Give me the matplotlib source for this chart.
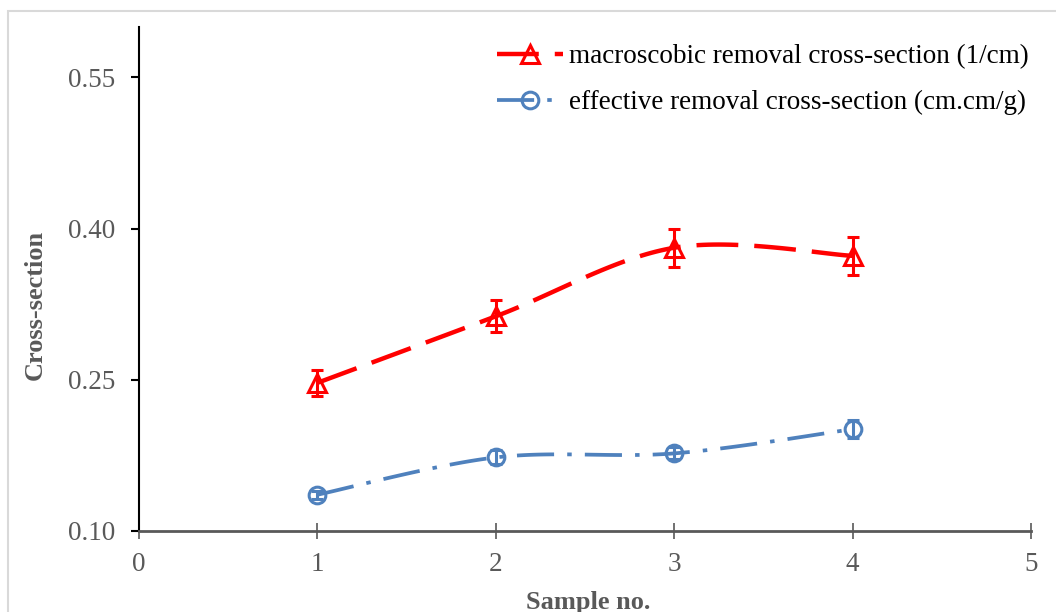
import numpy as np
import matplotlib.pyplot as plt
from matplotlib.lines import Line2D
from matplotlib.patches import Rectangle

# Данные
samples = [1, 2, 3, 4]
macro_vals = [0.247, 0.313, 0.381, 0.373]
macro_err = [0.013, 0.016, 0.019, 0.019]
eff_vals = [0.136, 0.173, 0.177, 0.201]
eff_err = [0.004, 0.007, 0.006, 0.009]
label_macro = "macroscobic removal cross-section (1/cm)"
label_eff = "effective removal cross-section (cm.cm/g)"
yticks = [0.10, 0.25, 0.40, 0.55]
xticks = [0, 1, 2, 3, 4, 5]


def smooth(xs, ys, n=40):
    # сглаживание как в Excel (кривые Безье через точки)
    p = np.column_stack([xs, ys]).astype(float)
    ext = np.vstack([p[0], p, p[-1]])
    out = []
    t = np.linspace(0, 1, n)[:, None]
    for i in range(len(p) - 1):
        p0, p1, p2, p3 = ext[i], ext[i + 1], ext[i + 2], ext[i + 3]
        c1 = p1 + (p2 - p0) / 6
        c2 = p2 - (p3 - p1) / 6
        seg = ((1 - t) ** 3) * p1 + 3 * ((1 - t) ** 2) * t * c1 + 3 * (1 - t) * t ** 2 * c2 + t ** 3 * p2
        out.append(seg if i == 0 else seg[1:])
    out = np.vstack(out)
    return out[:, 0], out[:, 1]


red = "#ff0000"
blue = "#4f81bd"
gray = "#595959"
red_dash = (9.4, 3.6)
blue_dash = (9.9, 3.5, 1.2, 3.5)

plt.rcParams['font.family'] = ['Liberation Serif', 'DejaVu Serif']

fig = plt.figure(figsize=(10.56, 6.12), dpi=100)
fig.patches.append(Rectangle((8 / 1056, -0.1), 1.2, 1 - 11 / 612 + 0.1, transform=fig.transFigure,
                             fill=False, edgecolor="#d9d9d9", linewidth=1.5))
ax = fig.add_axes([139 / 1056, 1 - 531 / 612, (1031 - 139) / 1056, (531 - 27) / 612])

# макроскопическое сечение
sx, sy = smooth(samples, macro_vals)
ax.plot(sx, sy, color=red, linewidth=3.2, dashes=red_dash, solid_capstyle='butt', zorder=2)
ax.errorbar(samples, macro_vals, yerr=macro_err, fmt='none', ecolor=red, elinewidth=2.2,
            capsize=4.5, capthick=2.2, zorder=3)
ax.plot(samples, macro_vals, linestyle='none', marker='^', markersize=13,
        markerfacecolor='none', markeredgecolor=red, markeredgewidth=2.2, zorder=4)

# эффективное сечение
sx, sy = smooth(samples, eff_vals)
ax.plot(sx, sy, color=blue, linewidth=2.7, dashes=blue_dash, solid_capstyle='butt', zorder=2)
ax.errorbar(samples, eff_vals, yerr=eff_err, fmt='none', ecolor=blue, elinewidth=2.2,
            capsize=4.5, capthick=2.2, zorder=3)
ax.plot(samples, eff_vals, linestyle='none', marker='o', markersize=12,
        markerfacecolor='none', markeredgecolor=blue, markeredgewidth=2.2, zorder=4)

ax.set_xlim(0, 5)
ax.set_ylim(0.10, 0.60)
ax.set_xticks(xticks)
ax.set_yticks(yticks)
ax.set_yticklabels([f"{v:.2f}" for v in yticks])
ax.tick_params(axis='x', direction='inout', length=12, width=1.2, color=gray,
               labelsize=19.5, labelcolor=gray, pad=9)
ax.tick_params(axis='y', direction='out', length=6, width=1.5, color='black',
               labelsize=19.5, labelcolor=gray, pad=11)
for s in ['top', 'right']:
    ax.spines[s].set_visible(False)
ax.spines['left'].set_color('black')
ax.spines['left'].set_linewidth(1.5)
ax.spines['bottom'].set_color(gray)
ax.spines['bottom'].set_linewidth(2)

ax.set_xlabel("Sample no.", fontsize=19, fontweight='bold', color=gray, labelpad=10)
ax.set_ylabel("Cross-section", fontsize=19, fontweight='bold', color=gray, labelpad=15)
ax.xaxis.label.set_x(0.504)
ax.yaxis.label.set_y(0.448)

handles = [
    Line2D([], [], color=red, linewidth=3.2, dashes=red_dash, marker='^', markersize=13,
           markerfacecolor='none', markeredgecolor=red, markeredgewidth=2.2),
    Line2D([], [], color=blue, linewidth=2.7, dashes=blue_dash, marker='o', markersize=12,
           markerfacecolor='none', markeredgecolor=blue, markeredgewidth=2.2),
]
fig.legend(handles, [label_macro, label_eff], loc='upper left',
           bbox_to_anchor=(497 / 1056, 1 - 44 / 612), borderaxespad=0, borderpad=0,
           frameon=False, fontsize=19.5, handlelength=2.45, handletextpad=0.2, labelspacing=0.78)

fig.savefig("out.png", dpi=100)
